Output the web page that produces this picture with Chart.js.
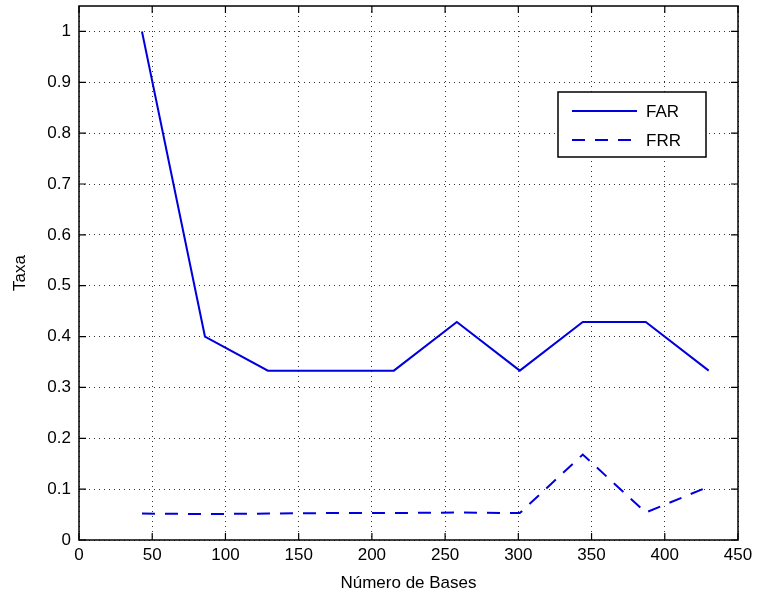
<!DOCTYPE html>
<html>
<head>
<meta charset="utf-8">
<script src="https://cdn.jsdelivr.net/npm/chart.js@4"></script>
<style>
  body { margin: 0; background: #fff; }
  #wrap { width: 757px; height: 604px; }
</style>
</head>
<body>
<div id="wrap"><canvas id="taxaChart"></canvas></div>
<script>
var bases = [43, 86, 129, 172, 215, 258, 301, 344, 387, 430];
var far = [1, 0.4, 0.333, 0.333, 0.333, 0.4286, 0.333, 0.4286, 0.4286, 0.333];
var frr = [0.052, 0.051, 0.052, 0.053, 0.053, 0.054, 0.053, 0.168, 0.054, 0.105];
var xTicks = [0, 50, 100, 150, 200, 250, 300, 350, 400, 450];
var yTicks = [0, 0.1, 0.2, 0.3, 0.4, 0.5, 0.6, 0.7, 0.8, 0.9, 1];

function pts(vals) {
    return bases.map(function (b, i) { return { x: b, y: vals[i] }; });
}

// moldura, marcas internas e legenda no estilo MATLAB
var framePlugin = {
    id: 'frame',
    afterDraw: function (chart) {
        var c = chart.ctx, a = chart.chartArea;
        var sx = chart.scales.x, sy = chart.scales.y;
        c.save();
        c.strokeStyle = '#000';
        c.lineWidth = 1.5;
        c.strokeRect(a.left, a.top, a.right - a.left, a.bottom - a.top);
        c.lineWidth = 1.2;
        c.beginPath();
        xTicks.forEach(function (t) {
            var px = sx.getPixelForValue(t);
            c.moveTo(px, a.bottom); c.lineTo(px, a.bottom - 7);
            c.moveTo(px, a.top); c.lineTo(px, a.top + 7);
        });
        yTicks.forEach(function (t) {
            var py = sy.getPixelForValue(t);
            c.moveTo(a.left, py); c.lineTo(a.left + 7, py);
            c.moveTo(a.right, py); c.lineTo(a.right - 7, py);
        });
        c.stroke();

        // legenda
        var lx = 558, ly = 92, lw = 148, lh = 65;
        c.fillStyle = '#fff';
        c.fillRect(lx, ly, lw, lh);
        c.lineWidth = 1.5;
        c.strokeRect(lx, ly, lw, lh);
        c.font = '17px "Liberation Sans", Arial, sans-serif';
        c.textBaseline = 'middle';
        chart.data.datasets.forEach(function (ds, i) {
            var yy = ly + 19 + i * 29;
            c.strokeStyle = ds.borderColor;
            c.lineWidth = ds.borderWidth;
            c.setLineDash(ds.borderDash || []);
            c.beginPath();
            c.moveTo(lx + 14, yy); c.lineTo(lx + 79, yy);
            c.stroke();
            c.setLineDash([]);
            c.fillStyle = '#000';
            c.fillText(ds.label, lx + 88, yy + 1);
        });
        c.restore();
    }
};

var tickFont = { family: '"Liberation Sans", Arial, sans-serif', size: 17 };

var ctx = document.getElementById('taxaChart').getContext('2d');
var taxaChart = new Chart(ctx, {
    type: 'line',
    data: {
        datasets: [
            {
                label: 'FAR',
                data: pts(far),
                borderColor: '#0000dd',
                borderWidth: 2,
                pointRadius: 0,
                tension: 0,
                fill: false
            },
            {
                label: 'FRR',
                data: pts(frr),
                borderColor: '#0000dd',
                borderWidth: 2,
                borderDash: [13, 10],
                pointRadius: 0,
                tension: 0,
                fill: false
            }
        ]
    },
    options: {
        responsive: true,
        maintainAspectRatio: false,
        animation: false,
        layout: { padding: { top: 6, right: 19, left: 0, bottom: 0 } },
        plugins: {
            legend: { display: false },
            tooltip: { enabled: false }
        },
        scales: {
            x: {
                type: 'linear',
                min: 0,
                max: 450,
                afterFit: function (s) { s.height = 64; s.paddingRight = 0; s.paddingLeft = 0; },
                afterBuildTicks: function (s) {
                    s.ticks = xTicks.map(function (v) { return { value: v }; });
                },
                ticks: {
                    color: '#000',
                    padding: 5,
                    maxRotation: 0,
                    font: tickFont
                },
                grid: {
                    color: '#333',
                    lineWidth: 1,
                    drawTicks: false
                },
                border: { display: false, dash: [1, 4] },
                title: {
                    display: true,
                    text: 'Número de Bases',
                    color: '#000',
                    padding: { top: 2, bottom: 10 },
                    font: tickFont
                }
            },
            y: {
                min: 0,
                max: 1.05,
                afterFit: function (s) { s.width = 79; s.paddingTop = 0; s.paddingBottom = 0; },
                afterBuildTicks: function (s) {
                    s.ticks = yTicks.map(function (v) { return { value: v }; });
                },
                ticks: {
                    color: '#000',
                    padding: 8,
                    callback: function (v) { return String(parseFloat(v.toFixed(1))); },
                    font: tickFont
                },
                grid: {
                    color: '#333',
                    lineWidth: 1,
                    drawTicks: false
                },
                border: { display: false, dash: [1, 4] },
                title: {
                    display: true,
                    text: 'Taxa',
                    color: '#000',
                    padding: { top: 10, bottom: 2 },
                    font: tickFont
                }
            }
        }
    },
    plugins: [framePlugin]
});
</script>
</body>
</html>
